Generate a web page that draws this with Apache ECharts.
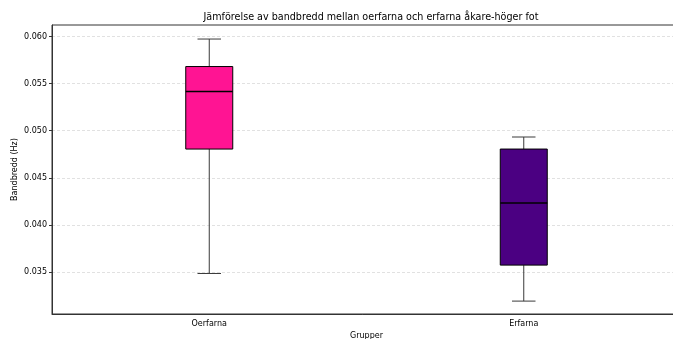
<!DOCTYPE html>
<html>
<head>
<meta charset="utf-8">
<script src="https://cdn.jsdelivr.net/npm/echarts@6/dist/echarts.min.js"></script>
<style>
  html, body { margin: 0; padding: 0; background: #fff; }
  #chart { width: 673px; height: 339px; }
</style>
</head>
<body>
<div id="chart"></div>
<script>
// Group names on the x axis
const groups = ['Oerfarna', 'Erfarna'];
// Five-number summaries per group: [lower whisker, Q1, median, Q3, upper whisker]
const lowerWhisker = [0.03484, 0.03191];
const q1 = [0.04805, 0.03573];
const median = [0.05416, 0.04232];
const q3 = [0.05681, 0.04805];
const upperWhisker = [0.05973, 0.04933];
const boxColors = ['#FF1493', '#4B0082'];
// Y tick values
const yTicks = [0.035, 0.040, 0.045, 0.050, 0.055, 0.060];

const boxData = groups.map((g, i) => [i, lowerWhisker[i], q1[i], median[i], q3[i], upperWhisker[i]]);

const FONT = 'DejaVu Sans';
const BOX_W = 47;

const chart = echarts.init(document.getElementById('chart'), null, { renderer: 'canvas' });

function renderBox(params, api) {
  const idx = api.value(0);
  const lo = api.coord([idx, api.value(1)]);
  const b1 = api.coord([idx, api.value(2)]);
  const md = api.coord([idx, api.value(3)]);
  const b3 = api.coord([idx, api.value(4)]);
  const hi = api.coord([idx, api.value(5)]);
  const x = lo[0];
  const hw = BOX_W / 2;
  const cw = BOX_W / 4;
  const wStyle = { stroke: '#3a3a3a', lineWidth: 1 };
  return {
    type: 'group',
    children: [
      { type: 'line', shape: { x1: x, y1: b1[1], x2: x, y2: lo[1] }, style: wStyle },
      { type: 'line', shape: { x1: x, y1: b3[1], x2: x, y2: hi[1] }, style: wStyle },
      { type: 'line', shape: { x1: x - cw, y1: lo[1], x2: x + cw, y2: lo[1] }, style: wStyle },
      { type: 'line', shape: { x1: x - cw, y1: hi[1], x2: x + cw, y2: hi[1] }, style: wStyle },
      { type: 'rect', shape: { x: x - hw, y: b3[1], width: BOX_W, height: b1[1] - b3[1] },
        style: { fill: boxColors[idx], stroke: '#000', lineWidth: 1 } },
      { type: 'line', shape: { x1: x - hw, y1: md[1], x2: x + hw, y2: md[1] },
        style: { stroke: '#000', lineWidth: 1.6 } }
    ]
  };
}

chart.setOption({
  animation: false,
  backgroundColor: '#fff',
  title: {
    text: 'Jämförelse av bandbredd mellan oerfarna och erfarna åkare-höger fot',
    left: 366, top: 7, textAlign: 'center',
    textStyle: { fontFamily: FONT, fontSize: 9.6, fontWeight: 'normal', color: '#000' }
  },
  grid: {
    left: 52, right: -8, top: 25, bottom: 25,
    containLabel: false,
    outerBoundsMode: 'none',
    show: true, borderColor: '#333', borderWidth: 1, backgroundColor: 'transparent'
  },
  xAxis: {
    type: 'category',
    data: groups,
    boundaryGap: true,
    name: 'Grupper',
    nameLocation: 'middle',
    nameGap: 18,
    nameMoveOverlap: false,
    nameTextStyle: { fontFamily: FONT, fontSize: 8, color: '#000' },
    axisLine: { lineStyle: { color: '#333' } },
    axisTick: { alignWithLabel: true, length: 3, lineStyle: { color: '#333' } },
    axisLabel: { fontFamily: FONT, fontSize: 8, color: '#000', margin: 6 },
    splitLine: { show: false }
  },
  yAxis: {
    type: 'value',
    min: 0.03054,
    max: 0.06122,
    name: 'Bandbredd (Hz)',
    nameLocation: 'middle',
    nameGap: 33,
    nameMoveOverlap: false,
    nameTextStyle: { fontFamily: FONT, fontSize: 8, color: '#000' },
    axisLine: { show: true, lineStyle: { color: '#333' } },
    axisTick: { show: true, length: 3, customValues: yTicks, lineStyle: { color: '#333' } },
    axisLabel: {
      fontFamily: FONT, fontSize: 8, color: '#000', margin: 5,
      customValues: yTicks,
      formatter: v => v.toFixed(3)
    },
    splitLine: { show: true, lineStyle: { color: '#d9d9d9', type: [3, 2], width: 0.8 } }
  },
  series: [{
    type: 'custom',
    renderItem: renderBox,
    encode: { x: 0, y: [1, 2, 3, 4, 5] },
    data: boxData,
    z: 3
  }]
});
</script>
</body>
</html>
